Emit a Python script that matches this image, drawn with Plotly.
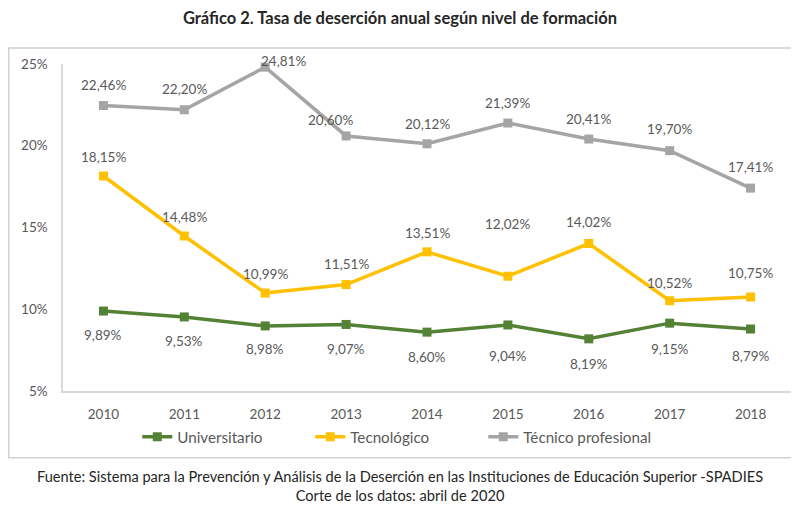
import plotly.graph_objects as go

years = ["2010", "2011", "2012", "2013", "2014", "2015", "2016", "2017", "2018"]
universitario = [9.89, 9.53, 8.98, 9.07, 8.60, 9.04, 8.19, 9.15, 8.79]
tecnologico = [18.15, 14.48, 10.99, 11.51, 13.51, 12.02, 14.02, 10.52, 10.75]
tecnico_prof = [22.46, 22.20, 24.81, 20.60, 20.12, 21.39, 20.41, 19.70, 17.41]
y_ticks = [5, 10, 15, 20, 25]
y_tick_labels = ["5%", "10%", "15%", "20%", "25%"]

series = [
    ("Universitario", universitario, "#548235"),
    ("Tecnológico", tecnologico, "#FFC000"),
    ("Técnico profesional", tecnico_prof, "#A5A5A5"),
]

# label offsets (pixels) per series
label_yshift = {
    "Universitario": [-24, -24, -23, -25, -25, -31, -25, -26, -27],
    "Tecnológico": [19, 19, 19, 21, 19, 52, 22, 18, 24],
    "Técnico profesional": [21, 21, 6, 16, 20, 20, 20, 22, 21],
}
label_xshift = {
    "Universitario": [0] * 9,
    "Tecnológico": [0] * 9,
    "Técnico profesional": [0, 0, 18, -16, 0, 0, 0, 0, 0],
}

FONT = "Lato, 'Open Sans', sans-serif"
xpos = list(range(len(years)))
fig = go.Figure()
annotations = []
for name, vals, color in series:
    fig.add_trace(go.Scatter(
        x=xpos, y=vals, name=name, mode="lines+markers",
        line=dict(color=color, width=3.5),
        marker=dict(symbol="square", size=9, color=color),
        cliponaxis=False,
    ))
    for i, v in enumerate(vals):
        annotations.append(dict(
            x=xpos[i], y=v, xref="x", yref="y",
            text=f"{v:.2f}".replace(".", ",") + "%",
            showarrow=False, yshift=label_yshift[name][i], xshift=label_xshift[name][i],
            font=dict(size=13.5, color="#595959", family=FONT),
        ))

annotations.append(dict(
    x=0.463, y=-0.352, xref="paper", yref="paper", yanchor="bottom", xanchor="center",
    text="Fuente: Sistema para la Prevención y Análisis de la Deserción en las Instituciones de Educación Superior -SPADIES<br>Corte de los datos: abril de 2020",
    showarrow=False, font=dict(size=14.6, color="#262626", family=FONT),
))

fig.update_layout(
    width=791, height=498,
    margin=dict(l=55, r=8, t=56, b=115, autoexpand=False),
    paper_bgcolor="white", plot_bgcolor="white",
    font=dict(family=FONT, color="#595959", size=13.5),
    title=dict(text="<b>Gráfico 2. Tasa de deserción anual según nivel de formación</b>",
               x=392 / 791, xref="container", xanchor="center",
               y=1 - 10 / 498, yref="container", yanchor="middle",
               font=dict(size=16.5, color="#262626", family=FONT)),
    showlegend=True,
    legend=dict(orientation="h", x=0.102, xanchor="left", y=-0.14, yanchor="middle",
                font=dict(size=15.2, color="#595959"), entrywidth=128, entrywidthmode="pixels",
                tracegroupgap=0, itemwidth=30),
    annotations=annotations,
    shapes=[dict(type="rect", xref="paper", yref="paper",
                 x0=-0.0746, x1=1.03, y0=-0.204, y1=1.049,
                 line=dict(color="#D0D0D0", width=1.5))],
)
fig.update_xaxes(range=[-0.5, 8.5], tickvals=xpos, ticktext=years, showgrid=False,
                 zeroline=False, showline=True, linecolor="#D9D9D9", linewidth=1.5,
                 ticks="", ticklabelstandoff=10, tickfont=dict(size=13.5, color="#595959"))
fig.update_yaxes(range=[5, 25], tickvals=y_ticks, ticktext=y_tick_labels,
                 showgrid=False, zeroline=False, showline=True, linecolor="#D9D9D9",
                 linewidth=1.5, ticks="", ticklabelstandoff=11,
                 tickfont=dict(size=13.5, color="#595959"))

fig.write_html("out.html")
